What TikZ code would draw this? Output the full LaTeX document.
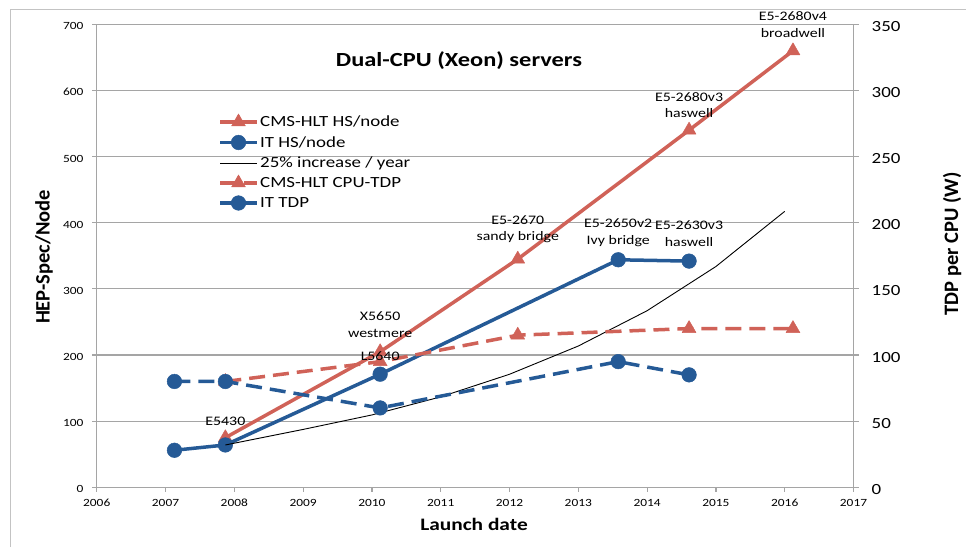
\documentclass[tikz,border=0pt]{standalone}
\usepackage{fontspec}
\setmainfont{Carlito}[FakeStretch=1.22]
\newfontfamily\plainfont{Carlito}
\usetikzlibrary{plotmarks}

\definecolor{cmsred}{RGB}{208,98,88}
\definecolor{itblue}{RGB}{37,90,150}
\definecolor{gridgray}{RGB}{165,165,165}
\definecolor{framegray}{RGB}{195,195,195}

\newcommand\tickfont{\fontsize{11}{13}\selectfont}
\newcommand\rtickfont{\fontsize{15.5}{18}\selectfont}
\newcommand\legfont{\fontsize{15.5}{18}\selectfont}
\newcommand\notefont{\fontsize{13}{16.5}\selectfont}
\newcommand\titlefont{\bfseries\fontsize{20}{23}\selectfont}
\newcommand\xtitlefont{\bfseries\fontsize{17.5}{20}\selectfont}
\newcommand\ytitlefont{\plainfont\bfseries\fontsize{20.5}{24}\selectfont}

\tikzset{
  gridline/.style={gridgray, line width=1.2pt},
  cmsline/.style={cmsred, line width=3.5pt, line join=round,
    mark=triangle*, mark size=8pt,
    mark options={solid, fill=cmsred, line width=0.5pt}},
  itline/.style={itblue, line width=3.5pt, line join=round,
    mark=*, mark size=7.3pt,
    mark options={solid, fill=itblue, line width=0.5pt}},
  tdpdash/.style={dash pattern=on 16pt off 8pt},
  trendline/.style={black, line width=0.9pt},
  note/.style={font=\notefont, align=center, inner sep=0pt},
  legtext/.style={font=\legfont, anchor=base west, inner sep=0pt}
}

\begin{document}
\begin{tikzpicture}[x=1pt, y=1pt]
  \useasboundingbox (0,0) rectangle (966,547);
  % chart frame
  \draw[framegray, line width=1pt] (10,0) -- (10,537) -- (966,537);

  % plot area, years from 2006 and HEP-Spec values
  \begin{scope}[shift={(96.7,59.7)}, x=68.8pt, y=0.6614pt]
    \foreach \hsv in {100,200,...,700}
      \draw[gridline] (0,\hsv) -- (11,\hsv);
    \draw[gridline] (0,700) -- (0,0) -- (11,0) -- (11,700);
    \foreach \yno in {0,...,11} {
      \pgfmathtruncatemacro\yr{2006+\yno}
      \draw[gridline] (\yno,0) -- ++(0,-5pt);
      \node[font=\tickfont, anchor=base, inner sep=0pt] (yr\yno) at ([yshift=-19pt]\yno,0) {\yr};
    }
    \foreach \hsv in {0,100,...,700} {
      \draw[gridline] (0,\hsv) -- ++(-5pt,0);
      \node[font=\tickfont, anchor=base east, inner sep=0pt] (hs\hsv) at ([xshift=-13pt, yshift=-5.5pt]0,\hsv) {\hsv};
    }

    % HEP-Spec per node
    \draw[cmsline] plot coordinates {(1.87,75) (4.12,205) (6.12,345) (8.61,540) (10.12,660)};
    \draw[itline] plot coordinates {(1.13,56) (1.87,64) (4.12,171) (7.58,344) (8.61,342)};
    \draw[trendline] plot coordinates {(1.87,64) (3,87.5) (4,109.4) (5,136.7) (6,170.9)
      (7,213.6) (8,267) (9,333.8) (10,417.2)};

    % TDP on the right axis
    \begin{scope}[y=1.3228pt]
      \foreach \tdpv in {0,50,...,350} {
        \draw[gridline] (11,\tdpv) -- ++(5pt,0);
        \node[font=\rtickfont, anchor=base west, inner sep=0pt] (tdp\tdpv) at ([xshift=18pt, yshift=-7pt]11,\tdpv) {\tdpv};
      }
      \draw[cmsline, tdpdash] plot coordinates {(1.87,80) (4.12,95) (6.12,115) (8.61,120) (10.12,120)};
      \draw[itline, tdpdash] plot coordinates {(1.13,80) (1.87,80) (4.12,60) (7.58,95) (8.61,85)};
    \end{scope}

    % cpu labels
    \node[note, yshift=26pt] (bdw) at (10.12,660) {E5-2680v4\\broadwell};
    \node[note, yshift=25pt] (hsw) at (8.61,540) {E5-2680v3\\haswell};
    \node[note, yshift=30pt] (snb) at (6.12,345) {E5-2670\\sandy bridge};
    \node[note, yshift=27pt] (ivb) at (7.58,344) {E5-2650v2\\Ivy bridge};
    \node[note, yshift=27.5pt] (hsw2) at (8.61,342) {E5-2630v3\\haswell};
    \node[note, yshift=27pt] (wsm) at (4.12,205) {X5650\\westmere};
    \node[note, yshift=18pt] (l5640) at (4.12,171) {L5640};
    \node[note, yshift=24pt] (e5430) at (1.87,64) {E5430};
  \end{scope}

  % legend
  \draw[cmsline, mark indices={2}] plot coordinates {(220,425) (238.5,425) (257,425)};
  \node[legtext] (lg1) at (260,420.3) {CMS-HLT HS/node};
  \draw[itline, mark indices={2}] plot coordinates {(220,404.5) (238.5,404.5) (257,404.5)};
  \node[legtext] (lg2) at (260,399.3) {IT HS/node};
  \draw[trendline] (220,384) -- (257,384);
  \node[legtext] (lg3) at (260,379.3) {25\% increase / year};
  \draw[cmsline, tdpdash, mark indices={2}] plot coordinates {(220,364) (238.5,364) (257,364)};
  \node[legtext] (lg4) at (260,359.3) {CMS-HLT CPU-TDP};
  \draw[itline, tdpdash, mark indices={2}] plot coordinates {(220,344) (238.5,344) (257,344)};
  \node[legtext] (lg5) at (260,339) {IT TDP};

  % titles
  \node[font=\titlefont, anchor=base] (title) at (459,480) {Dual-CPU (Xeon) servers};
  \node[font=\xtitlefont, anchor=base] (xlab) at (474,17) {Launch date};
  \node[font=\ytitlefont, rotate=90] (ylab) at (44,290) {HEP-Spec/Node};
  \node[font=\ytitlefont, rotate=90] (y2lab) at (952,303) {TDP per CPU (W)};
\end{tikzpicture}
\end{document}
